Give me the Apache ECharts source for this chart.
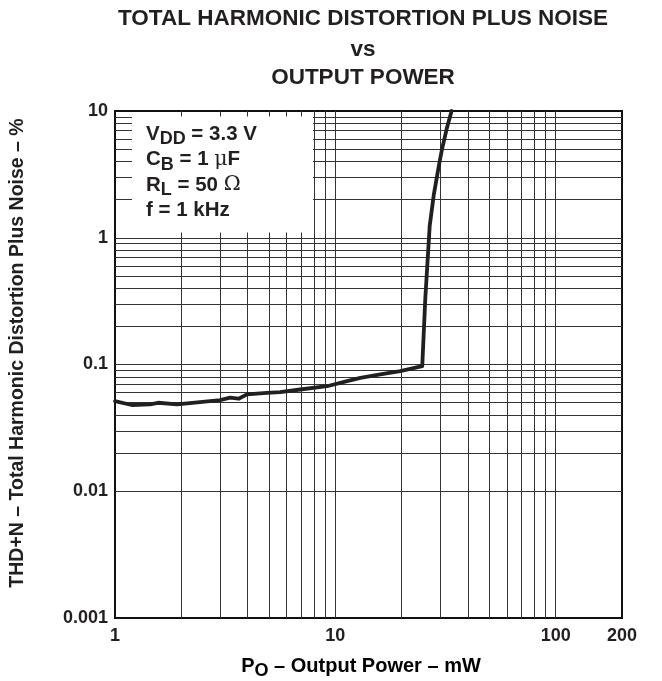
<!DOCTYPE html>
<html>
<head>
<meta charset="utf-8">
<script src="https://cdn.jsdelivr.net/npm/echarts@6/dist/echarts.min.js"></script>
<style>
html,body{margin:0;padding:0;background:#fff;}
#chart{width:662px;height:681px;}
</style>
</head>
<body>
<div id="chart"></div>
<script>
// Output power (mW) and THD+N (%)
const powerMW = [1, 1.19, 1.44, 1.57, 1.91, 2.43, 3.0, 3.33, 3.64, 3.97, 4.89, 5.62, 6.93, 9.17, 11.3, 13.0, 16.0, 19.7, 24.8, 25.6, 26.8, 28.0, 29.5, 30.5, 32.0, 33.7];
const thdPct  = [0.0514, 0.0479, 0.0484, 0.0499, 0.0484, 0.0505, 0.0523, 0.0547, 0.0537, 0.0581, 0.0598, 0.0605, 0.0635, 0.0674, 0.0739, 0.0785, 0.0834, 0.0886, 0.0970, 0.33, 1.23, 2.2, 3.7, 5.0, 7.2, 10.0];

// Axis ranges and grid line values
const xRange = [1, 200];
const yRange = [0.001, 10];
const xGridValues = [2,3,4,5,6,7,8,9,10,20,30,40,50,60,70,80,90,100];
const yGridValues = [0.002,0.003,0.004,0.005,0.006,0.007,0.008,0.009,0.01,
                     0.02,0.03,0.04,0.05,0.06,0.07,0.08,0.09,0.1,
                     0.2,0.3,0.4,0.5,0.6,0.7,0.8,0.9,1,
                     2,3,4,5,6,7,8,9];

// Texts
const titleLines = ['TOTAL HARMONIC DISTORTION PLUS NOISE', 'vs', 'OUTPUT POWER'];
const yAxisTitle = 'THD+N \u2013 Total Harmonic Distortion Plus Noise \u2013 %';
const xAxisTitle = '{m|P}{s|O}{m| \u2013 Output Power \u2013 mW}';
const conditions = [
  '{m|V}{s|DD}{m| = 3.3 V}',
  '{m|C}{s|B}{m| = 1 }{g|\u03bc}{m|F}',
  '{m|R}{s|L}{m| = 50 }{g|\u03a9}',
  '{m|f = 1 kHz}'
];

const TXT = '#231f20';
const FONT = 'Liberation Sans, Arial, Helvetica, sans-serif';
const GRIDC = '#333';

const chart = echarts.init(document.getElementById('chart'), null, {renderer: 'canvas'});

const richCond = {
  m: {fontSize: 20.5, fontWeight: 'bold', fontFamily: FONT, color: TXT, lineHeight: 28, verticalAlign: 'middle'},
  s: {fontSize: 18, fontWeight: 'bold', fontFamily: FONT, color: TXT, lineHeight: 18, verticalAlign: 'bottom'},
  g: {fontSize: 20.5, fontWeight: 'normal', fontFamily: 'DejaVu Serif, serif', color: TXT, lineHeight: 28, verticalAlign: 'middle'}
};

const condGraphics = conditions.map((t, i) => ({
  type: 'text', z: 101, x: 146, y: 134.5 + i * 25.3,
  style: {text: t, rich: richCond, textVerticalAlign: 'middle', textAlign: 'left', fill: TXT}
}));

const titleY = [18.5, 50, 77.5];
const titleGraphics = titleLines.map((t, i) => ({
  type: 'text', z: 101, x: 363, y: titleY[i],
  style: {text: t, fontSize: 22.5, fontWeight: 'bold', fontFamily: FONT, fill: TXT,
          textAlign: 'center', textVerticalAlign: 'middle'}
}));

const option = {
  animation: false,
  backgroundColor: '#fff',
  grid: {left: 115, top: 111, width: 507, height: 507, show: true, borderColor: '#111', borderWidth: 2, backgroundColor: 'transparent'},
  xAxis: {
    type: 'log', logBase: 10, min: xRange[0], max: xRange[1],
    axisLine: {show: true, onZero: false, lineStyle: {color: '#111', width: 2}},
    axisTick: {show: false},
    splitLine: {show: false},
    minorSplitLine: {show: false},
    axisLabel: {
      color: TXT, fontSize: 18, fontWeight: 'bold', fontFamily: FONT, margin: 9,
      showMaxLabel: true, showMinLabel: true,
      formatter: v => String(+(+v).toPrecision(3))
    }
  },
  yAxis: {
    type: 'log', logBase: 10, min: yRange[0], max: yRange[1],
    axisLine: {show: true, onZero: false, lineStyle: {color: '#111', width: 2}},
    axisTick: {show: false},
    splitLine: {show: false},
    axisLabel: {
      color: TXT, fontSize: 18, fontWeight: 'bold', fontFamily: FONT, margin: 7,
      formatter: v => String(+(+v).toPrecision(2))
    }
  },
  series: [
    {
      name: 'grid', type: 'line', z: 1, silent: true, symbol: 'none',
      data: [[xRange[0], yRange[0]]],
      lineStyle: {width: 0},
      markLine: {
        silent: true, symbol: ['none', 'none'], animation: false,
        label: {show: false},
        lineStyle: {color: GRIDC, width: 1, type: 'solid'},
        emphasis: {disabled: true},
        data: xGridValues.map(v => ({xAxis: v})).concat(yGridValues.map(v => ({yAxis: v})))
      }
    },
    {
      name: 'THD+N', type: 'line', z: 5, symbol: 'none', smooth: false,
      lineStyle: {color: '#231f20', width: 3.8, join: 'round', cap: 'round'},
      data: powerMW.map((x, i) => [x, thdPct[i]]),
      clip: true
    }
  ],
  graphic: [
    {type: 'rect', z: 100, shape: {x: 132, y: 116.5, width: 181, height: 116}, style: {fill: '#fff'}, silent: true},
    ...condGraphics,
    ...titleGraphics,
    {
      type: 'text', z: 101, x: 18, y: 353, rotation: Math.PI / 2,
      style: {text: yAxisTitle, fontSize: 19.5, fontWeight: 'bold', fontFamily: FONT, fill: TXT,
              textAlign: 'center', textVerticalAlign: 'middle'}
    },
    {
      type: 'text', z: 101, x: 361, y: 666,
      style: {
        text: xAxisTitle,
        textAlign: 'center', textVerticalAlign: 'middle',
        rich: {
          m: {fontSize: 20, fontWeight: 'bold', fontFamily: FONT, color: TXT, lineHeight: 28, verticalAlign: 'middle'},
          s: {fontSize: 18, fontWeight: 'bold', fontFamily: FONT, color: TXT, lineHeight: 18, verticalAlign: 'bottom'}
        }
      }
    }
  ]
};
chart.setOption(option);
</script>
</body>
</html>
